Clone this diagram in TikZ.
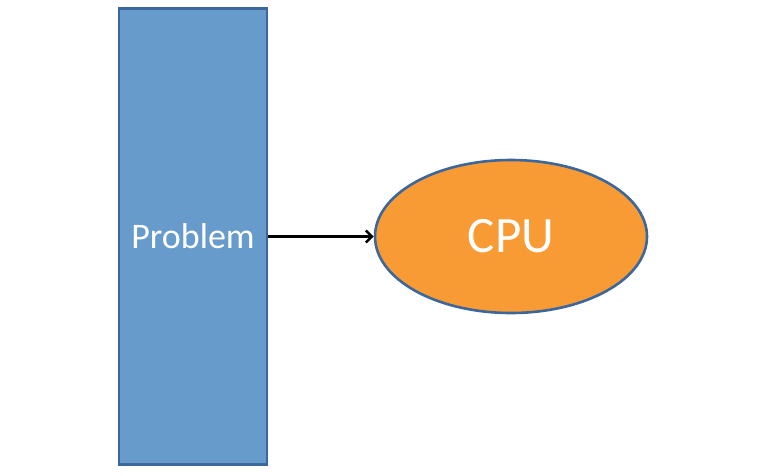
\documentclass[tikz,border=0pt]{standalone}
\usepackage{fontspec}
\setmainfont{Carlito}
\usetikzlibrary{arrows.meta,shapes.geometric}
\definecolor{boxblue}{HTML}{679BCC}
\definecolor{edgeblue}{HTML}{3B679C}
\definecolor{cpuorange}{HTML}{F99B35}

\begin{document}
\begin{tikzpicture}[
  x=1pt,y=-1pt,
  task/.style={draw=edgeblue,line width=2.5pt,fill=boxblue,text=white,minimum width=148pt,minimum height=456pt,font=\fontsize{36}{42}\selectfont},
  unit/.style={ellipse,draw=edgeblue,line width=2.6pt,fill=cpuorange,text=white,minimum width=272pt,minimum height=153pt,font=\fontsize{51}{60}\selectfont},
  flow/.style={line width=2.6pt,-{Straight Barb[length=6pt,width=12pt]}}
]
  \useasboundingbox (0,0) rectangle (767,475);
  \node[task] (problem) at (193,236.5) {Problem};
  \node[unit] (cpu) at (511,236.5) {CPU};

  \draw[flow] (problem.east) -- (cpu.west);
\end{tikzpicture}
\end{document}
